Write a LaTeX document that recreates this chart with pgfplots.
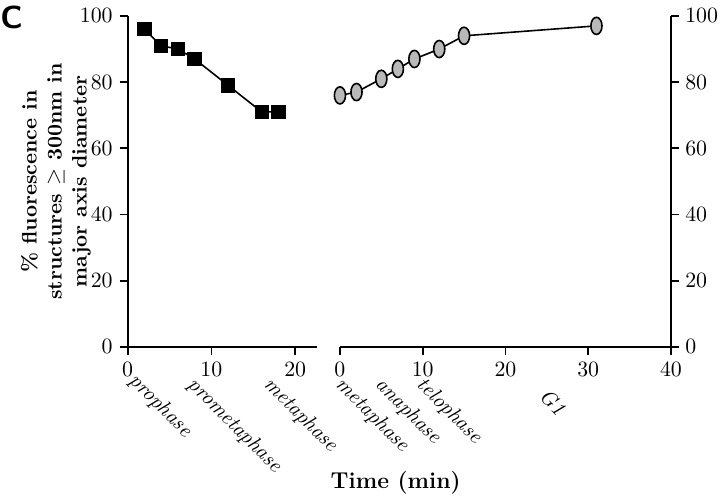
\documentclass[border=0pt]{standalone}
\usepackage{pgfplots}
\pgfplotsset{compat=1.18}
\tikzset{phase/.style={rotate=-45, anchor=north west, font=\itshape\fontsize{10.5}{12}\selectfont, inner sep=0pt}}
\begin{document}
\begin{tikzpicture}[x=1pt,y=1pt]
\pgfplotsset{
  common/.style={
    scale only axis,
    height=166pt,
    ymin=0, ymax=100,
    ytick={0,20,40,60,80,100},
    tick align=outside,
    major tick length=4pt,
    every tick/.style={black, line width=0.9pt},
    axis line style={line width=1pt},
    tick label style={font=\fontsize{10.5}{13}\selectfont},
    clip=false,
  },
}
% canvas 720x497 px at 0.5pt/px, origin at pixel (128,348)
\path (-64,-74.5) rectangle (296,174);
\begin{axis}[common,
  at={(0,0)}, anchor=origin,
  width=95pt,
  xmin=0, xmax=22.6,
  xtick={0,10,20},
  axis x line*=bottom, axis y line*=left,
]
\addplot[black, line width=0.8pt, mark=square*, mark size=3.2pt, mark options={solid, fill=black}]
  coordinates {(2,96) (4,91) (6,90) (8,87) (12,79) (16,71) (18,71)};
\node[phase] at ([xshift=5.5pt, yshift=-12pt]axis cs:0,0) {prophase};
\node[phase] at ([xshift=5.5pt, yshift=-14pt]axis cs:7,0) {prometaphase};
\node[phase] at ([xshift=5.5pt, yshift=-14pt]axis cs:16.1,0) {metaphase};
\node[rotate=90, anchor=center, align=center, font=\bfseries\fontsize{10.5}{12.5}\selectfont] at ([xshift=-36pt]rel axis cs:0,0.5)
  {\% fluorescence in\\ structures $\geq$ 300nm in\\ major axis diameter};
\node[font=\bfseries\fontsize{11.5}{13}\selectfont] at ([xshift=134.5pt, yshift=-68pt]rel axis cs:0,0) {Time (min)};
\node[font=\sffamily\bfseries\fontsize{16}{18}\selectfont, anchor=north west, inner sep=0pt] at ([xshift=-64pt, yshift=5pt]rel axis cs:0,1) {C};
\end{axis}
\begin{axis}[common,
  at={(106.5pt,0)}, anchor=origin,
  width=166pt,
  xmin=0, xmax=40,
  xtick={0,10,20,30,40},
  axis x line*=bottom, axis y line*=right,
  yticklabel style={inner sep=1pt, xshift=2pt},
]
\addplot[black, line width=0.8pt, mark=*, mark size=4.3pt,
  mark options={solid, xscale=0.65, draw=black, line width=0.8pt, fill=gray!55}]
  coordinates {(0,76) (2,77) (5,81) (7,84) (9,87) (12,90) (15,94) (31,97)};
\node[phase] at ([xshift=5.5pt, yshift=-14pt]axis cs:-0.7,0) {metaphase};
\node[phase] at ([xshift=5.5pt, yshift=-14pt]axis cs:4.1,0) {anaphase};
\node[phase] at ([xshift=5.5pt, yshift=-14pt]axis cs:9.1,0) {telophase};
\node[phase] at ([xshift=5.5pt, yshift=-20pt]axis cs:23.9,0) {G1};
\end{axis}
\end{tikzpicture}
\end{document}
